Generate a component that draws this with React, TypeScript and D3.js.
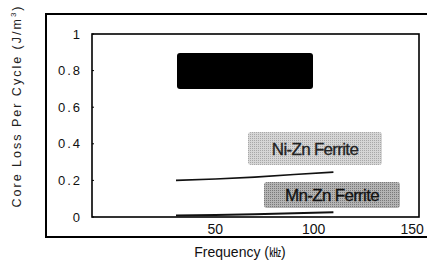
import React from 'react';
import * as d3 from 'd3';

// frequency (kHz) vs core loss per cycle (J/m^3)
const freq = [30, 50, 70, 90, 110];
const niZnLoss = [0.2, 0.208, 0.218, 0.232, 0.245];
const mnZnLoss = [0.008, 0.011, 0.015, 0.02, 0.026];

const yTicks = [0, 0.2, 0.4, 0.6, 0.8, 1];
const yTickLabels = ['0', '0.2', '0.4', '0.6', '0.8', '1'];
const xTicks = [50, 100, 150];

const width = 427;
const height = 268;

export default function App() {
  const x = d3.scaleLinear().domain([-12.7, 153.5]).range([92, 419]);
  const y = d3.scaleLinear().domain([0, 1]).range([217, 34]);

  const line = d3
    .line<number>()
    .x((_, i) => x(freq[i]))
    .y((d) => y(d));

  const font = 'Liberation Sans, Arial, sans-serif';

  return (
    <svg
      width={width}
      height={height}
      style={{ position: 'absolute', left: 0, top: 0, background: '#fff' }}
    >
      <defs>
        <pattern id="dots1" width="2" height="2" patternUnits="userSpaceOnUse">
          <rect width="2" height="2" fill="#d6d6d6" />
          <rect width="1" height="1" fill="#a8a8a8" />
        </pattern>
        <pattern id="dots2" width="2" height="2" patternUnits="userSpaceOnUse">
          <rect width="2" height="2" fill="#b4b4b4" />
          <rect width="1" height="1" fill="#7a7a7a" />
        </pattern>
      </defs>

      {/* outer frame */}
      <path d="M427,14 H46 V237 H427" fill="none" stroke="#000" strokeWidth={2} />

      {/* plot frame */}
      <rect x={92} y={34} width={327} height={183} fill="none" stroke="#000" strokeWidth={1.6} />

      {yTicks.map((t, i) => (
        <g key={t}>
          <line x1={92} x2={94} y1={y(t)} y2={y(t)} stroke="#000" />
          <text
            x={82}
            y={y(t)}
            dy="0.35em"
            textAnchor="end"
            fontFamily={font}
            fontSize={13}
            letterSpacing={2}
            fill="#111"
          >
            {yTickLabels[i]}
          </text>
        </g>
      ))}

      {xTicks.map((t) => (
        <text
          key={t}
          x={x(t)}
          y={229}
          dy="0.35em"
          textAnchor="middle"
          fontFamily={font}
          fontSize={14}
          fill="#111"
        >
          {t}
        </text>
      ))}

      <text
        x={240}
        y={257}
        textAnchor="middle"
        fontFamily={font}
        fontSize={14}
        fill="#111"
      >
        Frequency (<tspan fontFamily="Noto Sans CJK KR" fontSize={12}>㎑</tspan>)
      </text>

      <text
        transform="translate(21,106) rotate(-90)"
        textAnchor="middle"
        fontFamily={font}
        fontSize={12.5}
        letterSpacing={2}
        fill="#222"
      >
        Core Loss Per Cycle (J/m<tspan dy={-5} fontSize={8}>3</tspan><tspan dy={5}>)</tspan>
      </text>

      {/* data lines */}
      <path d={line(niZnLoss) ?? ''} fill="none" stroke="#111" strokeWidth={1.6} />
      <path d={line(mnZnLoss) ?? ''} fill="none" stroke="#111" strokeWidth={2} />

      {/* labels */}
      <rect x={177} y={53} width={136} height={36} rx={3} fill="#000" />

      <rect x={248} y={132} width={134} height={33} rx={3} fill="url(#dots1)" />
      <text x={315} y={149} dy="0.35em" textAnchor="middle" fontFamily={font} fontSize={17} letterSpacing={-0.7} fill="#222" stroke="#222" strokeWidth={0.3}>
        Ni-Zn Ferrite
      </text>

      <rect x={264} y={182} width={136} height={26} rx={3} fill="url(#dots2)" />
      <text x={332} y={195} dy="0.35em" textAnchor="middle" fontFamily={font} fontSize={17} letterSpacing={-0.7} fill="#111" stroke="#111" strokeWidth={0.3}>
        Mn-Zn Ferrite
      </text>
    </svg>
  );
}
